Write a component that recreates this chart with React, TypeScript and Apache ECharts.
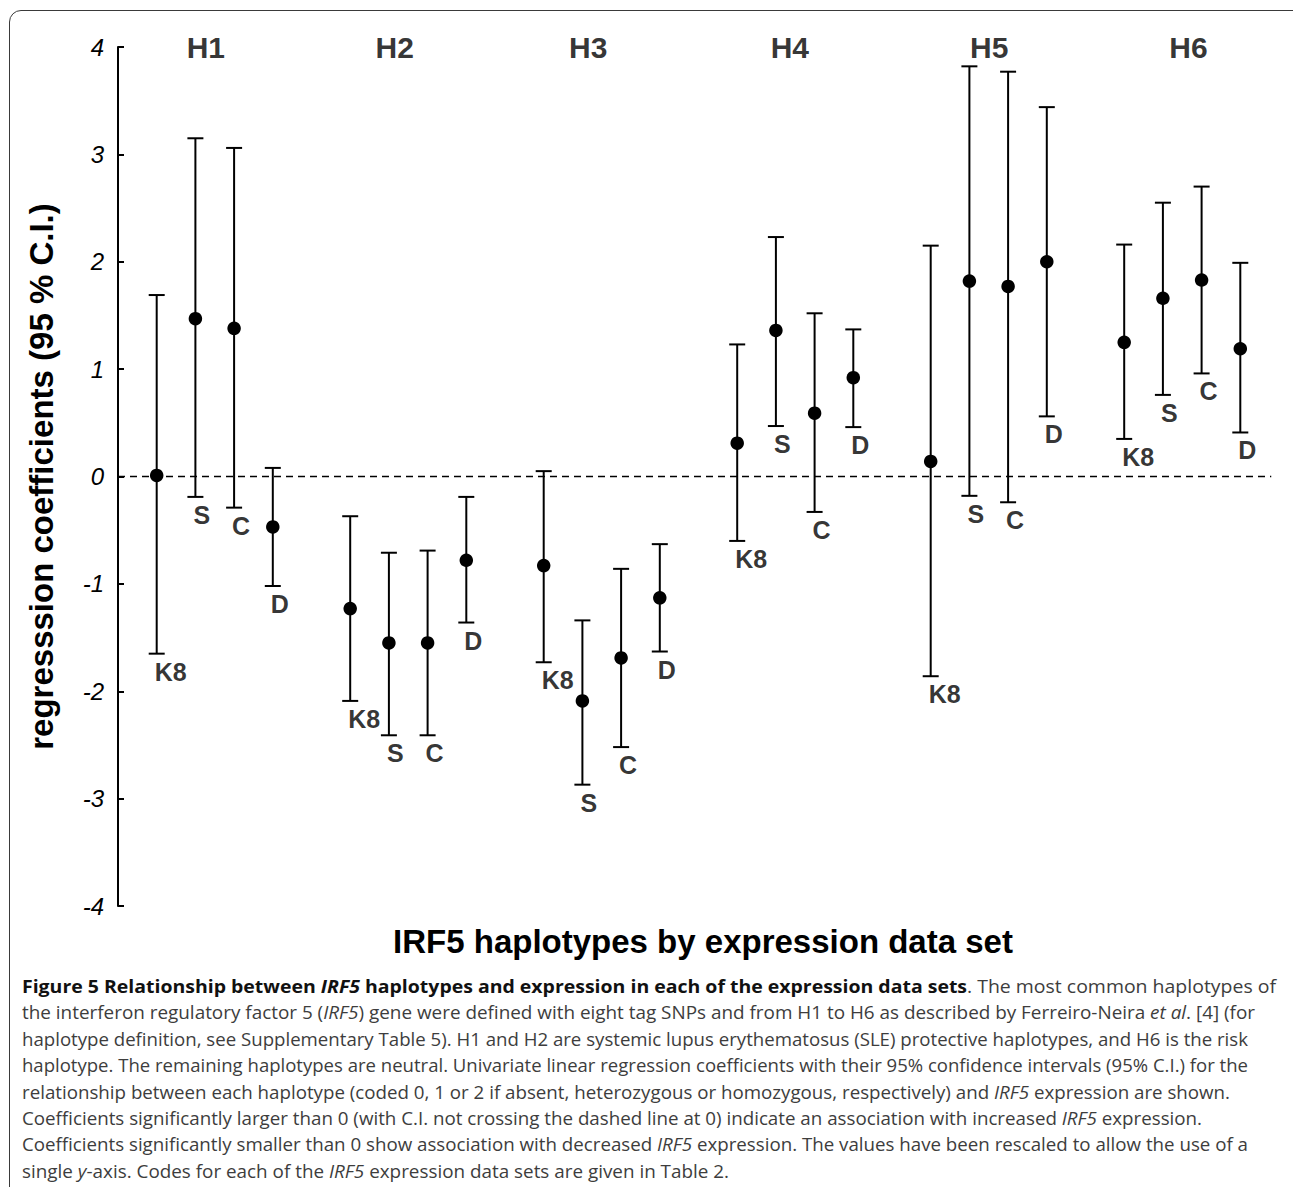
import React, { useEffect, useRef } from "react";
import * as echarts from "echarts";

// ---- data ----
const groups = ["H1", "H2", "H3", "H4", "H5", "H6"];
const datasets = ["K8", "S", "C", "D"];
const groupLabelX = [2.27, 7.15, 12.15, 17.36, 22.51, 27.66];

const estH1 = [0.01, 1.47, 1.38, -0.47];
const lowH1 = [-1.65, -0.19, -0.29, -1.02];
const highH1 = [1.69, 3.15, 3.06, 0.08];

const estH2 = [-1.23, -1.55, -1.55, -0.78];
const lowH2 = [-2.09, -2.41, -2.41, -1.36];
const highH2 = [-0.37, -0.71, -0.69, -0.19];

const estH3 = [-0.83, -2.09, -1.69, -1.13];
const lowH3 = [-1.73, -2.87, -2.52, -1.63];
const highH3 = [0.05, -1.34, -0.86, -0.63];

const estH4 = [0.31, 1.36, 0.59, 0.92];
const lowH4 = [-0.6, 0.47, -0.33, 0.46];
const highH4 = [1.23, 2.23, 1.52, 1.37];

const estH5 = [0.14, 1.82, 1.77, 2.0];
const lowH5 = [-1.86, -0.18, -0.24, 0.56];
const highH5 = [2.15, 3.82, 3.77, 3.44];

const estH6 = [1.25, 1.66, 1.83, 1.19];
const lowH6 = [0.35, 0.76, 0.96, 0.41];
const highH6 = [2.16, 2.55, 2.7, 1.99];

const estimates = [estH1, estH2, estH3, estH4, estH5, estH6];
const lowers = [lowH1, lowH2, lowH3, lowH4, lowH5, lowH6];
const uppers = [highH1, highH2, highH3, highH4, highH5, highH6];

const yMin = -4;
const yMax = 4;
const zeroLineX = [0, 29.8];

const yTitle = "regresssion coefficients (95 % C.I.)";
const xTitle = "IRF5 haplotypes by expression data set";

const FONT = "'Liberation Sans', Arial, Helvetica, sans-serif";

// caption lines: [text, style] segments
type Seg = [string, string];
const captionLines: Seg[][] = [
  [
    ["Figure 5 Relationship between ", "b"],
    ["IRF5", "bi"],
    [" haplotypes and expression in each of the expression data sets", "b"],
    [". The most common haplotypes of", "n"],
  ],
  [
    ["the interferon regulatory factor 5 (", "n"],
    ["IRF5", "i"],
    [") gene were defined with eight tag SNPs and from H1 to H6 as described by Ferreiro-Neira ", "n"],
    ["et al", "i"],
    [". [4] (for", "n"],
  ],
  [["haplotype definition, see Supplementary Table 5). H1 and H2 are systemic lupus erythematosus (SLE) protective haplotypes, and H6 is the risk", "n"]],
  [["haplotype. The remaining haplotypes are neutral. Univariate linear regression coefficients with their 95% confidence intervals (95% C.I.) for the", "n"]],
  [
    ["relationship between each haplotype (coded 0, 1 or 2 if absent, heterozygous or homozygous, respectively) and ", "n"],
    ["IRF5", "i"],
    [" expression are shown.", "n"],
  ],
  [
    ["Coefficients significantly larger than 0 (with C.I. not crossing the dashed line at 0) indicate an association with increased ", "n"],
    ["IRF5", "i"],
    [" expression.", "n"],
  ],
  [
    ["Coefficients significantly smaller than 0 show association with decreased ", "n"],
    ["IRF5", "i"],
    [" expression. The values have been rescaled to allow the use of a", "n"],
  ],
  [
    ["single ", "n"],
    ["y", "i"],
    ["-axis. Codes for each of the ", "n"],
    ["IRF5", "i"],
    [" expression data sets are given in Table 2.", "n"],
  ],
];
const captionRightEdges = [1276, 1255, 1248, 1248, 1230, 1202, 1248, 729];
const captionLeft = 22;

function buildRows() {
  const rows: any[] = [];
  groups.forEach((g, gi) => {
    datasets.forEach((d, di) => {
      const x = gi * 5 + di + 1;
      rows.push([x, estimates[gi][di], lowers[gi][di], uppers[gi][di], d]);
    });
  });
  return rows;
}

function Chart() {
  const ref = useRef<HTMLDivElement>(null);
  useEffect(() => {
    if (!ref.current) return;
    const chart = echarts.init(ref.current, null, { renderer: "svg" });
    const rows = buildRows();
    const capHalf = 8;
    const option: any = {
      animation: false,
      backgroundColor: "transparent",
      grid: { left: 118, top: 47, width: 1161, height: 859, containLabel: false },
      xAxis: { type: "value", min: 0, max: 30, show: false },
      yAxis: {
        type: "value",
        min: yMin,
        max: yMax,
        interval: 1,
        axisLine: { show: true, onZero: false, lineStyle: { color: "#000", width: 2 } },
        axisTick: { show: true, inside: true, length: 6, lineStyle: { color: "#000", width: 2 } },
        axisLabel: { fontStyle: "italic", fontSize: 24, color: "#000", margin: 14, fontFamily: FONT },
        splitLine: { show: false },
        name: yTitle,
        nameLocation: "middle",
        nameRotate: 90,
        nameGap: 60,
        nameTextStyle: { fontSize: 33, fontWeight: "bold", color: "#000", fontFamily: FONT },
      },
      graphic: [
        {
          type: "text",
          x: 703,
          y: 941,
          style: {
            text: xTitle,
            fontSize: 33,
            fontWeight: "bold",
            fontFamily: FONT,
            fill: "#000",
            align: "center",
            verticalAlign: "middle",
          },
        },
      ],
      series: [
        {
          type: "line",
          data: [
            [zeroLineX[0], 0],
            [zeroLineX[1], 0],
          ],
          symbol: "none",
          lineStyle: { color: "#000", width: 1.6, type: [7, 5] },
          z: 1,
          silent: true,
        },
        {
          type: "custom",
          data: rows,
          encode: { x: 0, y: [2, 3] },
          z: 2,
          renderItem: (params: any, api: any) => {
            const x = api.value(0);
            const lo = api.coord([x, api.value(2)]);
            const hi = api.coord([x, api.value(3)]);
            const st = { stroke: "#000", lineWidth: 2 };
            return {
              type: "group",
              children: [
                { type: "line", shape: { x1: lo[0], y1: lo[1], x2: hi[0], y2: hi[1] }, style: st },
                { type: "line", shape: { x1: hi[0] - capHalf, y1: hi[1], x2: hi[0] + capHalf, y2: hi[1] }, style: st },
                { type: "line", shape: { x1: lo[0] - capHalf, y1: lo[1], x2: lo[0] + capHalf, y2: lo[1] }, style: st },
              ],
            };
          },
        },
        {
          type: "scatter",
          data: rows.map((r) => [r[0], r[1]]),
          symbol: "circle",
          symbolSize: 13.5,
          itemStyle: { color: "#000", opacity: 1 },
          z: 3,
        },
        {
          type: "scatter",
          data: rows.map((r) => [r[0], r[2], r[4]]),
          symbolSize: 1,
          itemStyle: { color: "rgba(0,0,0,0)" },
          z: 3,
          label: {
            show: true,
            position: "bottom",
            distance: 5,
            align: "left",
            offset: [-2, 0],
            formatter: (p: any) => p.value[2],
            fontSize: 25,
            fontWeight: "bold",
            fontFamily: FONT,
            color: "#000",
          },
        },
        {
          type: "scatter",
          data: groups.map((g, i) => [groupLabelX[i], yMax, g]),
          symbolSize: 1,
          itemStyle: { color: "rgba(0,0,0,0)" },
          clip: false,
          z: 3,
          label: {
            show: true,
            position: "inside",
            formatter: (p: any) => p.value[2],
            fontSize: 30,
            fontWeight: "bold",
            fontFamily: FONT,
            color: "#000",
          },
        },
      ],
    };
    chart.setOption(option);
    return () => chart.dispose();
  }, []);
  return <div ref={ref} style={{ position: "absolute", left: 0, top: 0, width: 1293, height: 965 }} />;
}

function Caption() {
  const lineRefs = useRef<(HTMLSpanElement | null)[]>([]);
  useEffect(() => {
    const fit = () => {
      lineRefs.current.forEach((el, i) => {
        if (!el) return;
        el.style.transform = "none";
        const w = el.getBoundingClientRect().width;
        const target = captionRightEdges[i] - captionLeft;
        if (w > 0) el.style.transform = `scaleX(${target / w})`;
      });
    };
    fit();
    if ((document as any).fonts && (document as any).fonts.ready) {
      (document as any).fonts.ready.then(fit);
    }
  }, []);
  return (
    <div
      style={{
        position: "absolute",
        left: captionLeft,
        top: 973,
        fontFamily: "'Open Sans', 'Noto Sans', sans-serif",
        fontSize: 17.5,
        lineHeight: "26.4px",
        color: "#3d3d3d",
        whiteSpace: "nowrap",
      }}
    >
      {captionLines.map((line, li) => (
        <div key={li} style={{ height: 26.4 }}>
          <span
            ref={(el) => {
              lineRefs.current[li] = el;
            }}
            style={{ display: "inline-block", transformOrigin: "0 0" }}
          >
            {line.map(([t, s], si) => (
              <span
                key={si}
                style={{
                  fontWeight: s.includes("b") ? 700 : 400,
                  fontStyle: s.includes("i") ? "italic" : "normal",
                  color: s.includes("b") ? "#111" : undefined,
                }}
              >
                {t}
              </span>
            ))}
          </span>
        </div>
      ))}
    </div>
  );
}

export default function App() {
  return (
    <div
      style={{
        position: "fixed",
        left: 0,
        top: 0,
        width: 1293,
        height: 1187,
        overflow: "hidden",
        background: "#fff",
      }}
    >
      <div
        style={{
          position: "absolute",
          left: 9,
          top: 10,
          width: 1300,
          height: 1220,
          border: "1.5px solid #3a3a3a",
          borderRadius: 12,
          boxSizing: "border-box",
        }}
      />
      <Chart />
      <Caption />
    </div>
  );
}
